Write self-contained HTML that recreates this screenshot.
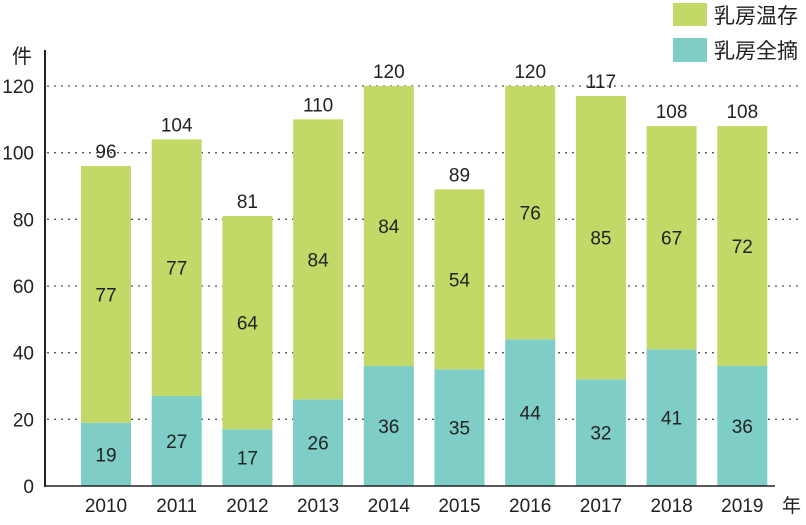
<!DOCTYPE html>
<html><head><meta charset="utf-8"><style>
body{margin:0;background:#fff;}
svg text{font-family:"Liberation Sans","Noto Sans CJK JP",sans-serif;fill:#222;}
</style></head><body>
<svg width="806" height="520" viewBox="0 0 806 520">
<g id="grid"></g><g id="bars"></g><g id="axes"></g>
<g>
<rect x="673" y="3" width="34" height="23" fill="#c2d968"/>
<text x="714" y="23" font-size="21">乳房温存</text>
<rect x="673" y="38" width="34" height="24" fill="#7ecdc6"/>
<text x="714" y="58" font-size="21">乳房全摘</text>
</g>
<text x="12" y="63" font-size="20">件</text>
<text x="782" y="512" font-size="19">年</text>
</svg>
<script>
const years=["2010","2011","2012","2013","2014","2015","2016","2017","2018","2019"];
const mastectomy=[19,27,17,26,36,35,44,32,41,36];
const conserving=[77,77,64,84,84,54,76,85,67,72];
const yTicks=[0,20,40,60,80,100,120];
const NS="http://www.w3.org/2000/svg";
const y0=486,yScale=400/120;
function yPos(v){return y0-v*yScale;}
function xCenter(i){return 106+i*70.7;}
const bw=50;
function mk(tag,attrs,parent,txt){const e=document.createElementNS(NS,tag);for(const k in attrs)e.setAttribute(k,attrs[k]);if(txt!==undefined)e.textContent=txt;parent.appendChild(e);return e;}
const grid=document.getElementById('grid'),bars=document.getElementById('bars'),axes=document.getElementById('axes');
yTicks.forEach(t=>{
 if(t>0){const l=mk('line',{x1:47,x2:802,y1:yPos(t),y2:yPos(t),stroke:'#555','stroke-width':1.3,'stroke-dasharray':'2,5'},grid);
 
 }
 const tx=mk('text',{x:34,y:yPos(t)+7,'font-size':19,'text-anchor':'end'},axes,t);
 
 
});
years.forEach((yr,i)=>{
 const cx=xCenter(i),m=mastectomy[i],c=conserving[i],tot=m+c;
 const r1=mk('rect',{x:cx-bw/2,y:yPos(m),width:bw,height:m*yScale,fill:'#7ecdc6'},bars);
 
 
 const r2=mk('rect',{x:cx-bw/2,y:yPos(tot),width:bw,height:c*yScale,fill:'#c2d968'},bars);
 
 
 const t1=mk('text',{x:cx,y:(yPos(m)+y0)/2+7,'font-size':19,'text-anchor':'middle'},bars,m);
 
 
 const t2=mk('text',{x:cx,y:(yPos(tot)+yPos(m))/2+7,'font-size':19,'text-anchor':'middle'},bars,c);
 
 
 const t3=mk('text',{x:cx,y:yPos(tot)-8,'font-size':19,'text-anchor':'middle'},bars,tot);
 
 
 const xl=mk('text',{x:cx,y:512,'font-size':19,'text-anchor':'middle'},axes,yr);
 
 
});
const ya=mk('line',{x1:45,x2:45,y1:50,y2:487,stroke:'#222','stroke-width':2},axes);


const xa=mk('line',{x1:45,x2:775,y1:486,y2:486,stroke:'#222','stroke-width':1.5},axes);


</script>
</body></html>
